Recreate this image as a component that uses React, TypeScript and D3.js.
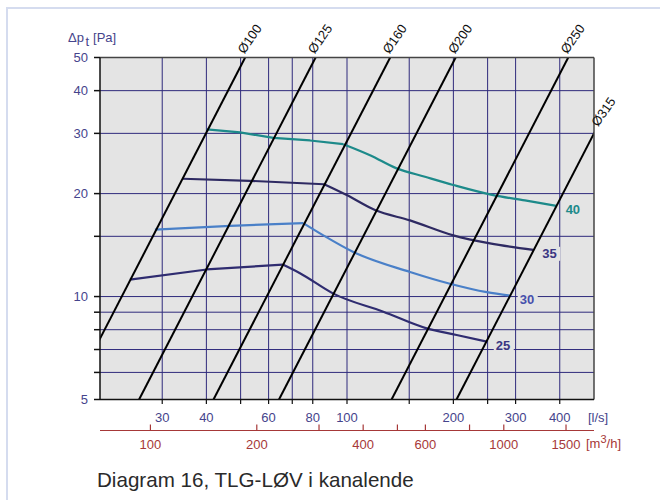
import React from "react";
import * as d3 from "d3";

// ---- data ----
const yGridValues = [6, 7, 8, 9, 10, 15, 20, 30, 40];
const yTickValues = [5, 6, 7, 8, 9, 10, 15, 20, 30, 40, 50];
const yLabelValues = [5, 10, 20, 30, 40, 50];

const xGridValues = [30, 40, 50, 60, 70, 80, 100, 150, 200, 250, 300, 400];
const xLabelValues = [30, 40, 60, 80, 100, 200, 300, 400];

const m3hTickValues = [100, 200, 300, 400, 500, 600, 800, 1000, 1500];
const m3hLabelValues = [100, 200, 400, 600, 1000, 1500];

// duct lines: flow (l/s) at 5 Pa and at 50 Pa
const ductNames = ["Ø100", "Ø125", "Ø160", "Ø200", "Ø250", "Ø315"];
const ductQ5 = [16.3, 25.8, 41.9, 64.2, 133.7, 204.1];
const ductQ50 = [51.5, 81.5, 132.5, 203, 422.7, 645.5];

// curves [l/s, Pa]
const curve40 = [[40.1, 30.8], [49.8, 30.2], [61.9, 29.1], [78.6, 28.6], [97.6, 27.9], [116.2, 25.9], [138.2, 23.7], [166.2, 22.4], [199.9, 21.2], [259.4, 19.8], [318.8, 19.1], [392, 18.4]];
const curve35 = [[34.3, 22.1], [53.1, 21.8], [86.1, 21.3], [99.8, 19.8], [120, 17.9], [150.8, 16.7], [199.9, 15.1], [253.8, 14.3], [336.6, 13.7]];
const curve30 = [[28.6, 15.7], [46.7, 16.1], [75.2, 16.4], [85.7, 15.1], [104.2, 13.5], [150.8, 11.8], [195.6, 10.9], [248.6, 10.3], [290.6, 10.06]];
const curve25 = [[24.3, 11.2], [40.1, 12.0], [65.8, 12.4], [73.6, 11.7], [91.5, 10.2], [126.7, 9.03], [168.1, 8.07], [204.3, 7.72], [248.6, 7.38]];
const curveLabels = ["40", "35", "30", "25"];
const curveKinks = [4, 2, 2, 2];

const FONT = "'Liberation Sans', Arial, Helvetica, sans-serif";
const L = 100, R = 594, T = 57.5, B = 399.5;

export default function App() {
  const x = d3.scaleLog().domain([20, 500]).range([L, R]);
  const y = d3.scaleLog().domain([5, 50]).range([B, T]);
  const xm = d3.scaleLog().domain([20 * 3.6, 500 * 3.6]).range([L, R]);

  const curves = [curve40, curve35, curve30, curve25];
  const curveColors = ["#1d8a8a", "#2e2a62", "#4a80c8", "#2f2c70"];
  const labelColors = ["#1d8a8a", "#3a3682", "#4750ac", "#3a3682"];

  const lin = d3.line<number[]>().x((d) => x(d[0])).y((d) => y(d[1])).curve(d3.curveLinear);
  const mono = d3.line<number[]>().x((d) => x(d[0])).y((d) => y(d[1])).curve(d3.curveMonotoneX);

  const gridColor = "#2f2a7c";
  const tickTextColor = "#45448c";
  const red = "#a63838";

  return (
    <svg width={660} height={500} style={{ position: "absolute", left: 0, top: 0, background: "#fff" }} fontFamily={FONT}>
      <defs>
        <clipPath id="plot">
          <rect x={L} y={T} width={R - L} height={B - T} />
        </clipPath>
      </defs>
      <rect x={7} y={8} width={700} height={600} fill="#fff" stroke="#d5dcef" strokeWidth={2} />

      {/* plot background */}
      <rect x={L} y={T} width={R - L} height={B - T} fill="#e4e4e4" />

      {/* grid */}
      {yGridValues.map((v) => (
        <line key={"hy" + v} x1={L} x2={R} y1={y(v)} y2={y(v)} stroke={gridColor} strokeWidth={1} />
      ))}
      {xGridValues.map((v) => (
        <line key={"vx" + v} x1={x(v)} x2={x(v)} y1={T} y2={B} stroke={gridColor} strokeWidth={1} />
      ))}

      {/* curves */}
      <g clipPath="url(#plot)" fill="none">
        {curves.map((c, i) => (
          <g key={"c" + i} stroke={curveColors[i]} strokeWidth={2.2} strokeLinejoin="round">
            <path d={lin(c.slice(0, curveKinks[i] + 1)) || ""} />
            <path d={mono(c.slice(curveKinks[i])) || ""} />
          </g>
        ))}
        {/* duct lines */}
        {ductNames.map((n, i) => (
          <line key={n} x1={x(ductQ5[i])} y1={y(5)} x2={x(ductQ50[i])} y2={y(50)} stroke="#000" strokeWidth={2} />
        ))}
      </g>

      {/* curve labels */}
      {curves.map((c, i) => {
        const e = c[c.length - 1];
        const px = x(e[0]) + 9;
        const py = y(e[1]) + 4;
        return (
          <g key={"cl" + i}>
            <rect x={px - 2} y={py - 7} width={20} height={14} fill="#e4e4e4" />
            <text x={px} y={py + 4.5} fontSize={13} fontWeight="bold" fill={labelColors[i]}>
              {curveLabels[i]}
            </text>
          </g>
        );
      })}

      {/* frame */}
      <line x1={L} x2={R} y1={T} y2={T} stroke="#444" strokeWidth={1.5} />
      <line x1={R} x2={R} y1={T} y2={B} stroke="#444" strokeWidth={1.5} />
      <line x1={L} x2={L} y1={T} y2={B} stroke="#111" strokeWidth={1.5} />
      <line x1={L} x2={R} y1={B} y2={B} stroke="#111" strokeWidth={1.5} />

      {/* duct labels */}
      {ductNames.map((n, i) => {
        let ax: number, ay: number, dx: number, dy: number;
        if (ductQ50[i] <= 500) {
          ax = x(ductQ50[i]);
          ay = y(50);
          dx = -1;
          dy = -3;
        } else {
          ax = x(500);
          ay = y(5 * Math.pow(500 / ductQ5[i], 2));
          dx = 4;
          dy = -6;
        }
        return (
          <text key={"dl" + n} transform={`translate(${ax + dx},${ay + dy}) rotate(-55)`} fontSize={13} fill="#111">
            {n}
          </text>
        );
      })}

      {/* y axis ticks */}
      {yTickValues.map((v) => (
        <line key={"yt" + v} x1={94} x2={L} y1={y(v)} y2={y(v)} stroke="#111" strokeWidth={1.5} />
      ))}
      {yLabelValues.map((v) => (
        <text key={"yl" + v} x={88} y={y(v) + 4.5} fontSize={13} textAnchor="end" fill={tickTextColor}>
          {v}
        </text>
      ))}
      <text x={68} y={41.5} fontSize={13} fill={tickTextColor}>
        Δp
        <tspan dx={1.5} dy={4}>t</tspan>
        <tspan dx={4} dy={-4}>[Pa]</tspan>
      </text>

      {/* x axis (l/s) */}
      {xGridValues.map((v) => (
        <line key={"xt" + v} x1={x(v)} x2={x(v)} y1={B} y2={B + 4.5} stroke="#111" strokeWidth={1.2} />
      ))}
      {xLabelValues.map((v) => (
        <text key={"xl" + v} x={x(v)} y={421.7} fontSize={13} textAnchor="middle" fill={tickTextColor}>
          {v}
        </text>
      ))}
      <text x={588} y={421.7} fontSize={13} fill={tickTextColor}>
        [l/s]
      </text>

      {/* m3/h axis */}
      <line x1={L} x2={R} y1={430.5} y2={430.5} stroke={red} strokeWidth={1.2} />
      {m3hTickValues.map((v) => (
        <line key={"mt" + v} x1={xm(v)} x2={xm(v)} y1={424.5} y2={430.5} stroke={red} strokeWidth={1.2} />
      ))}
      {m3hLabelValues.map((v) => (
        <text key={"ml" + v} x={xm(v)} y={448.5} fontSize={13} textAnchor="middle" fill={red}>
          {v}
        </text>
      ))}
      <text x={586} y={448} fontSize={13} fill={red}>
        [m<tspan dy={-5} fontSize={11}>3</tspan>
        <tspan dy={5}>/h]</tspan>
      </text>

      {/* caption */}
      <text x={97} y={486.5} fontSize={20.6} fill="#2a2a2a">
        Diagram 16, TLG-LØV i kanalende
      </text>
    </svg>
  );
}
